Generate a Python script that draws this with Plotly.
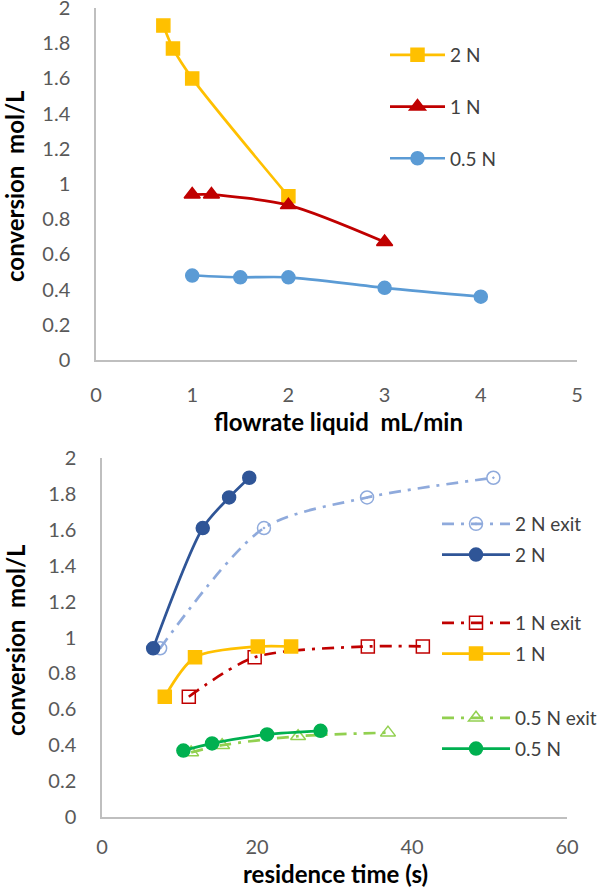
import plotly.graph_objects as go

# top chart: conversion vs liquid flowrate
flow_2n = [0.7, 0.8, 1.0, 2.0]
conv_2n = [1.90, 1.77, 1.60, 0.93]
flow_1n = [1.0, 1.2, 2.0, 3.0]
conv_1n = [0.94, 0.94, 0.88, 0.67]
flow_05n = [1.0, 1.5, 2.0, 3.0, 4.0]
conv_05n = [0.48, 0.47, 0.47, 0.41, 0.36]

# bottom chart: conversion vs residence time
t_2n = [6.6, 13.0, 16.4, 19.0]
c_2n = [0.94, 1.61, 1.78, 1.89]
t_2n_exit = [7.5, 20.9, 34.2, 50.5]
c_2n_exit = [0.94, 1.61, 1.78, 1.89]
t_1n = [8.1, 12.0, 20.1, 24.4]
c_1n = [0.67, 0.89, 0.95, 0.95]
t_1n_exit = [11.2, 19.7, 34.3, 41.4]
c_1n_exit = [0.67, 0.89, 0.95, 0.95]
t_05n = [10.5, 14.2, 21.3, 28.2]
c_05n = [0.37, 0.41, 0.46, 0.48]
t_05n_exit = [11.5, 15.5, 25.3, 36.9]
c_05n_exit = [0.36, 0.40, 0.45, 0.47]

FONT = "Lato"
TICK = "#595959"
AXIS = "#BFBFBF"
DASHDOT = "12px,7px,3px,7px"

fig = go.Figure()


def add(x, y, name, color, symbol, size, xa, ya, legend, group, dash="solid", width=2.7):
    fig.add_trace(go.Scatter(
        x=x, y=y, name=name, mode="lines+markers",
        line=dict(color=color, width=width, dash=dash, shape="spline", smoothing=0.8),
        marker=dict(symbol=symbol, size=size, color=color,
                    line=dict(color=color, width=1.5)),
        xaxis=xa, yaxis=ya, legend=legend, legendgroup=group))


add(flow_2n, conv_2n, "2 N", "#FFC000", "square", 13, "x", "y", "legend", "a")
add(flow_1n, conv_1n, "1 N", "#C00000", "triangle-up", 14, "x", "y", "legend", "b")
add(flow_05n, conv_05n, "0.5 N", "#5B9BD5", "circle", 13, "x", "y", "legend", "c")

add(t_2n_exit, c_2n_exit, "2 N exit", "#8FAADC", "circle-open-dot", 13, "x2", "y2", "legend2", "d", dash=DASHDOT)
add(t_2n, c_2n, "2 N", "#2F5597", "circle", 13, "x2", "y2", "legend2", "e")
add(t_1n_exit, c_1n_exit, "1 N exit", "#C00000", "square-open", 13, "x2", "y2", "legend3", "f", dash=DASHDOT)
add(t_1n, c_1n, "1 N", "#FFC000", "square", 13, "x2", "y2", "legend3", "g")
add(t_05n_exit, c_05n_exit, "0.5 N exit", "#92D050", "triangle-up-open", 13, "x2", "y2", "legend4", "h", dash=DASHDOT)
add(t_05n, c_05n, "0.5 N", "#00B050", "circle", 13, "x2", "y2", "legend4", "i")

axis_common = dict(showgrid=False, zeroline=False, showline=True, linecolor=AXIS, linewidth=1.5,
                   ticks="outside", tickcolor="rgba(0,0,0,0)", automargin=False,
                   ticklabeloverflow="allow",
                   tickfont=dict(family=FONT, size=20, color=TICK), fixedrange=True)

H = 889.0
W = 598.0
leg_font = dict(family=FONT, size=19, color="#404040")

fig.update_layout(
    width=598, height=889,
    margin=dict(l=0, r=0, t=0, b=0, autoexpand=False),
    paper_bgcolor="white", plot_bgcolor="white",
    font=dict(family=FONT, size=20, color="#404040"),
    xaxis=dict(domain=[96 / W, 577 / W], range=[0, 5], dtick=1, anchor="y", ticklen=16, **axis_common),
    yaxis=dict(domain=[1 - 360 / H, 1 - 8 / H], range=[0, 2], dtick=0.2, anchor="x", ticklen=20, **axis_common),
    xaxis2=dict(domain=[102 / W, 567 / W], range=[0, 60], dtick=20, anchor="y2", ticklen=11, **axis_common),
    yaxis2=dict(domain=[1 - 817 / H, 1 - 458 / H], range=[0, 2], dtick=0.2, anchor="x2", ticklen=20, **axis_common),
    legend=dict(x=385 / W, y=1 - 36 / H, xanchor="left", yanchor="top", traceorder="grouped",
                tracegroupgap=24, itemwidth=55, bgcolor="rgba(0,0,0,0)", font=leg_font),
    legend2=dict(x=437 / W, y=1 - 505 / H, xanchor="left", yanchor="top", traceorder="grouped",
                 tracegroupgap=3, itemwidth=68, bgcolor="rgba(0,0,0,0)", font=leg_font),
    legend3=dict(x=437 / W, y=1 - 604 / H, xanchor="left", yanchor="top", traceorder="grouped",
                 tracegroupgap=3, itemwidth=68, bgcolor="rgba(0,0,0,0)", font=leg_font),
    legend4=dict(x=437 / W, y=1 - 699 / H, xanchor="left", yanchor="top", traceorder="grouped",
                 tracegroupgap=3, itemwidth=68, bgcolor="rgba(0,0,0,0)", font=leg_font),
)

title_font = dict(family=FONT, size=24, color="black", weight="bold")
titles = [("conversion  mol/L", 15, 186, -90),
          ("flowrate liquid  mL/min", 338, 421, 0),
          ("conversion  mol/L", 15, 640, -90),
          ("residence time (s)", 335, 873, 0)]
for text, px_x, px_y, angle in titles:
    fig.add_annotation(text=text, x=px_x / W, y=1 - px_y / H, xref="paper", yref="paper",
                       xanchor="center", yanchor="middle", borderpad=0,
                       textangle=angle, showarrow=False, font=title_font)

# the page body has a default 8px margin; drop it so the figure fills the window
fig.write_html("out.html", config={"displayModeBar": False},
               post_script="document.body.style.margin='0';")
